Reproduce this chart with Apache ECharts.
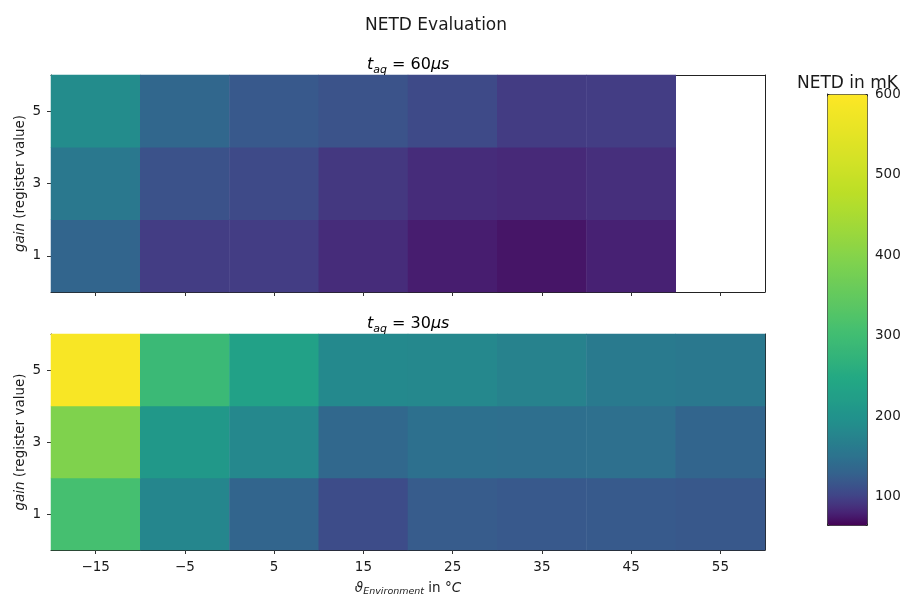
<!DOCTYPE html>
<html><head><meta charset="utf-8">
<script src="https://cdn.jsdelivr.net/npm/echarts@6/dist/echarts.min.js"></script>
<style>html,body{margin:0;padding:0;background:#fff}#c{width:909px;height:599px}</style>
</head><body><div id="c"></div><script>
// ---- data ----
const temperatures = ['\u221215','\u22125','5','15','25','35','45','55'];
const gains = ['1','3','5'];
const netd60_gain1 = [133,97,97,86,78,74,80,null];
const netd60_gain3 = [159,114,107,93,86,84,88,null];
const netd60_gain5 = [189,136,121,115,107,96,97,null];
const netd30_gain1 = [309,180,134,109,124,121,122,120];
const netd30_gain3 = [392,212,182,137,148,146,147,134];
const netd30_gain5 = [588,290,231,184,182,174,162,159];
const colorbarTicks = [100,200,300,400,500,600];
const colorMin = 65, colorMax = 600;

function cells(rows){
  const out=[];
  rows.forEach((row,yi)=>row.forEach((v,xi)=>{ if(v!==null) out.push([xi,yi,v]); }));
  return out;
}
const data60 = cells([netd60_gain1, netd60_gain3, netd60_gain5]);
const data30 = cells([netd30_gain1, netd30_gain3, netd30_gain5]);

// viridis, applied with a logarithmic norm between colorMin and colorMax
const viridis = [[68,1,84],[72,36,117],[65,68,135],[53,95,141],[42,120,142],[33,145,140],[34,168,132],[68,191,112],[122,209,81],[189,223,38],[253,231,37]];
function viridisAt(t){
  t = Math.max(0, Math.min(1, t));
  const p = t * (viridis.length - 1), i = Math.min(Math.floor(p), viridis.length - 2), f = p - i;
  const a = viridis[i], b = viridis[i + 1];
  return 'rgb(' + a.map((c, k) => Math.round(c + (b[k] - c) * f)).join(',') + ')';
}
const logColors = [];
for (let k = 0; k <= 120; k++) {
  const v = colorMin + (colorMax - colorMin) * k / 120;
  logColors.push(viridisAt(Math.log(v / colorMin) / Math.log(colorMax / colorMin)));
}

const FONT = 'DejaVu Sans';
const txt = '#1a1a1a';
const fs = 13.5;

const G = [
  {left:51, top:75, width:714, height:217},
  {left:51, top:334, width:714, height:216},
  {left:827, top:94, width:40, height:431}
];

function subTitle(val, top){
  const base = {fontFamily: FONT, fontWeight: 'normal', color: '#000'};
  return {
    text: '{i|t}{s|aq}{n| = ' + val + '}{i|\u03bcs}',
    left: 362, top: top,
    textStyle: {
      fontWeight: 'normal',
      rich: {
        i: Object.assign({fontStyle: 'italic', fontSize: 16, lineHeight: 22, verticalAlign: 'middle'}, base),
        n: Object.assign({fontSize: 16, lineHeight: 22, verticalAlign: 'middle'}, base),
        s: Object.assign({fontStyle: 'italic', fontSize: 11, lineHeight: 11, verticalAlign: 'bottom'}, base)
      }
    }
  };
}

const yName = {
  name: '{i|gain} (register value)',
  nameLocation: 'middle', nameGap: 24, nameRotate: 90, nameMoveOverlap: false,
  nameTextStyle: {fontFamily: FONT, fontSize: fs, color: txt,
    rich: {i: {fontFamily: FONT, fontSize: fs, fontStyle: 'italic', color: txt}}}
};

const lineStyle = {color: '#222', width: 1};
const tickStyle = {color: '#333', width: 1};

const option = {
  backgroundColor: '#fff',
  animation: false,
  title: [
    {text: 'NETD Evaluation', left: 360, top: 12,
      textStyle: {fontFamily: FONT, fontSize: 17, fontWeight: 'normal', color: txt}},
    subTitle('60', 49),
    subTitle('30', 308),
    {text: 'NETD in mK', left: 792, top: 70,
      textStyle: {fontFamily: FONT, fontSize: 17, fontWeight: 'normal', color: txt}}
  ],
  grid: G,
  xAxis: [
    {type: 'category', gridIndex: 0, data: temperatures, position: 'bottom',
      axisLine: {show: true, lineStyle}, axisTick: {show: true, alignWithLabel: true, length: 4, lineStyle: tickStyle},
      axisLabel: {show: false}, splitLine: {show: false}},
    {type: 'category', gridIndex: 1, data: temperatures, position: 'bottom',
      axisLine: {show: true, lineStyle}, axisTick: {show: true, alignWithLabel: true, length: 4, lineStyle: tickStyle},
      axisLabel: {fontFamily: FONT, fontSize: fs, color: txt, margin: 10},
      name: '{i|\u03d1}{s|Environment}{n| in \u00b0}{i|C}', nameLocation: 'middle', nameGap: 29, nameMoveOverlap: false,
      nameTextStyle: {rich: {
        n: {fontFamily: FONT, fontSize: fs, color: txt, lineHeight: 18, verticalAlign: 'middle'},
        i: {fontFamily: FONT, fontSize: fs, fontStyle: 'italic', color: txt, lineHeight: 18, verticalAlign: 'middle'},
        s: {fontFamily: FONT, fontSize: 9.5, fontStyle: 'italic', color: txt, lineHeight: 9, verticalAlign: 'bottom'}
      }},
      splitLine: {show: false}},
    {type: 'category', gridIndex: 0, data: temperatures, position: 'top',
      axisLine: {show: true, lineStyle}, axisTick: {show: false}, axisLabel: {show: false}},
    {type: 'category', gridIndex: 1, data: temperatures, position: 'top',
      axisLine: {show: true, lineStyle}, axisTick: {show: false}, axisLabel: {show: false}},
    {type: 'value', gridIndex: 2, show: false, min: 0, max: 1}
  ],
  yAxis: [
    Object.assign({type: 'category', gridIndex: 0, data: gains, position: 'left',
      axisLine: {show: true, lineStyle}, axisTick: {show: true, alignWithLabel: true, length: 4, lineStyle: tickStyle},
      axisLabel: {fontFamily: FONT, fontSize: fs, color: txt, margin: 10}, splitLine: {show: false}}, yName),
    Object.assign({type: 'category', gridIndex: 1, data: gains, position: 'left',
      axisLine: {show: true, lineStyle}, axisTick: {show: true, alignWithLabel: true, length: 4, lineStyle: tickStyle},
      axisLabel: {fontFamily: FONT, fontSize: fs, color: txt, margin: 10}, splitLine: {show: false}}, yName),
    {type: 'category', gridIndex: 0, data: gains, position: 'right',
      axisLine: {show: true, lineStyle}, axisTick: {show: false}, axisLabel: {show: false}},
    {type: 'category', gridIndex: 1, data: gains, position: 'right',
      axisLine: {show: true, lineStyle}, axisTick: {show: false}, axisLabel: {show: false}},
    {type: 'value', gridIndex: 2, position: 'right', min: colorMin, max: colorMax,
      axisLine: {show: true, lineStyle}, splitLine: {show: false},
      axisTick: {show: true, length: 4, lineStyle: tickStyle, customValues: colorbarTicks},
      axisLabel: {fontFamily: FONT, fontSize: fs, color: txt, margin: 8, customValues: colorbarTicks}}
  ],
  visualMap: {
    type: 'continuous', min: colorMin, max: colorMax, seriesIndex: [0, 1],
    calculable: false, realtime: false, hoverLink: false,
    orient: 'vertical', left: 827, top: 94, itemWidth: 40, itemHeight: 431,
    padding: 0, text: null, showLabel: false,
    borderColor: '#222', borderWidth: 1,
    inRange: {color: logColors}
  },
  series: [
    {type: 'heatmap', xAxisIndex: 0, yAxisIndex: 0, data: data60,
      itemStyle: {borderWidth: 0}, emphasis: {disabled: true}},
    {type: 'heatmap', xAxisIndex: 1, yAxisIndex: 1, data: data30,
      itemStyle: {borderWidth: 0}, emphasis: {disabled: true}},
    {type: 'scatter', xAxisIndex: 4, yAxisIndex: 4, data: [], silent: true}
  ]
};
echarts.init(document.getElementById('c'), null, {renderer: 'canvas'}).setOption(option);
</script></body></html>
